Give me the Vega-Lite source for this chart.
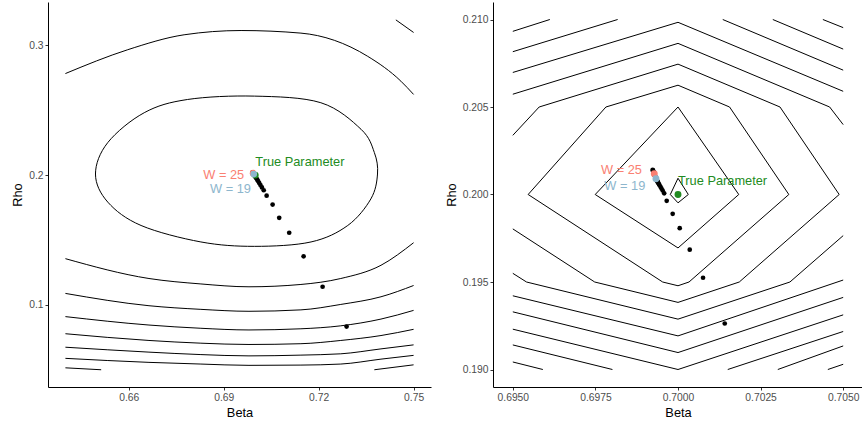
{
  "$schema": "https://vega.github.io/schema/vega-lite/v6.json",
  "padding": {"left": 11, "top": 2, "right": 0, "bottom": 0},
  "spacing": 14,
  "config": {
    "view": {"stroke": null},
    "font": "Liberation Sans",
    "axis": {"grid": false, "domainColor": "black", "domainWidth": 1, "tickColor": "#333333", "tickSize": 3, "tickWidth": 1, "labelColor": "#4D4D4D", "labelFontSize": 10.3, "labelFont": "Liberation Sans", "titleFont": "Liberation Sans", "titleFontSize": 12.8, "titleFontWeight": "normal", "titleColor": "black", "labelPadding": 2, "titlePadding": 4}
  },
  "datasets": {
    "lopen": [
      {"c":"A","i":1,"b":0.64,"r":0.2783},{"c":"A","i":2,"b":0.6597,"r":0.2967},{"c":"A","i":3,"b":0.6775,"r":0.3082},{"c":"A","i":4,"b":0.6955,"r":0.3115},{"c":"A","i":5,"b":0.7144,"r":0.3095},{"c":"A","i":6,"b":0.7355,"r":0.2916},{"c":"A","i":7,"b":0.746,"r":0.2724},{"c":"A","i":8,"b":0.75,"r":0.2622},
      {"c":"A2","i":1,"b":0.7444,"r":0.3197},{"c":"A2","i":2,"b":0.75,"r":0.31},
      {"c":"C","i":1,"b":0.64,"r":0.1355},{"c":"C","i":2,"b":0.6664,"r":0.1202},{"c":"C","i":3,"b":0.6828,"r":0.116},{"c":"C","i":4,"b":0.698,"r":0.1138},{"c":"C","i":5,"b":0.7144,"r":0.1156},{"c":"C","i":6,"b":0.727,"r":0.1202},{"c":"C","i":7,"b":0.7397,"r":0.1304},{"c":"C","i":8,"b":0.75,"r":0.1478},
      {"c":"D","i":1,"b":0.64,"r":0.1087},{"c":"D","i":2,"b":0.6664,"r":0.0992},{"c":"D","i":3,"b":0.6828,"r":0.0964},{"c":"D","i":4,"b":0.698,"r":0.0949},{"c":"D","i":5,"b":0.7144,"r":0.096},{"c":"D","i":6,"b":0.727,"r":0.1002},{"c":"D","i":7,"b":0.7397,"r":0.1061},{"c":"D","i":8,"b":0.75,"r":0.1148},
      {"c":"E","i":1,"b":0.64,"r":0.0908},{"c":"E","i":2,"b":0.6664,"r":0.0843},{"c":"E","i":3,"b":0.6828,"r":0.0818},{"c":"E","i":4,"b":0.698,"r":0.0805},{"c":"E","i":5,"b":0.7144,"r":0.0814},{"c":"E","i":6,"b":0.727,"r":0.0837},{"c":"E","i":7,"b":0.7397,"r":0.0889},{"c":"E","i":8,"b":0.75,"r":0.0956},
      {"c":"F","i":1,"b":0.64,"r":0.0776},{"c":"F","i":2,"b":0.6664,"r":0.0724},{"c":"F","i":3,"b":0.6828,"r":0.0703},{"c":"F","i":4,"b":0.698,"r":0.0693},{"c":"F","i":5,"b":0.7144,"r":0.0699},{"c":"F","i":6,"b":0.727,"r":0.0724},{"c":"F","i":7,"b":0.7397,"r":0.0762},{"c":"F","i":8,"b":0.75,"r":0.081},
      {"c":"G","i":1,"b":0.64,"r":0.0672},{"c":"G","i":2,"b":0.6664,"r":0.0634},{"c":"G","i":3,"b":0.6828,"r":0.0615},{"c":"G","i":4,"b":0.698,"r":0.0605},{"c":"G","i":5,"b":0.7144,"r":0.0611},{"c":"G","i":6,"b":0.727,"r":0.0621},{"c":"G","i":7,"b":0.7397,"r":0.0659},{"c":"G","i":8,"b":0.75,"r":0.069},
      {"c":"H","i":1,"b":0.64,"r":0.0586},{"c":"H","i":2,"b":0.6664,"r":0.0555},{"c":"H","i":3,"b":0.6828,"r":0.0542},{"c":"H","i":4,"b":0.698,"r":0.0532},{"c":"H","i":5,"b":0.7144,"r":0.0534},{"c":"H","i":6,"b":0.727,"r":0.0542},{"c":"H","i":7,"b":0.7397,"r":0.058},{"c":"H","i":8,"b":0.75,"r":0.0609},
      {"c":"I1","i":1,"b":0.64,"r":0.0513},{"c":"I1","i":2,"b":0.6513,"r":0.0498},
      {"c":"I2","i":1,"b":0.7376,"r":0.0498},{"c":"I2","i":2,"b":0.75,"r":0.0536}
    ],
    "lclosed": [
      {"c":"B","i":1,"b":0.6495,"r":0.2008},{"c":"B","i":2,"b":0.6534,"r":0.2251},{"c":"B","i":3,"b":0.6649,"r":0.2481},{"c":"B","i":4,"b":0.6786,"r":0.2583},{"c":"B","i":5,"b":0.6997,"r":0.2609},{"c":"B","i":6,"b":0.7207,"r":0.2558},{"c":"B","i":7,"b":0.7334,"r":0.2353},{"c":"B","i":8,"b":0.7376,"r":0.2174},{"c":"B","i":9,"b":0.7386,"r":0.2008},{"c":"B","i":10,"b":0.7365,"r":0.1816},{"c":"B","i":11,"b":0.7292,"r":0.1611},{"c":"B","i":12,"b":0.7176,"r":0.1484},{"c":"B","i":13,"b":0.6997,"r":0.145},{"c":"B","i":14,"b":0.6828,"r":0.1484},{"c":"B","i":15,"b":0.6639,"r":0.1611},{"c":"B","i":16,"b":0.6534,"r":0.1791}
    ],
    "lpts": [
      {"w":1,"b":0.728832,"r":0.083115},{"w":2,"b":0.721253,"r":0.113814},{"w":3,"b":0.715253,"r":0.137298},{"w":4,"b":0.710705,"r":0.155487},{"w":5,"b":0.707547,"r":0.167},{"w":6,"b":0.705463,"r":0.177206},{"w":7,"b":0.703568,"r":0.184113},{"w":8,"b":0.702653,"r":0.188258},{"w":9,"b":0.702084,"r":0.190483},{"w":10,"b":0.701611,"r":0.192325},{"w":11,"b":0.701232,"r":0.19386},{"w":12,"b":0.700916,"r":0.195165},{"w":13,"b":0.700632,"r":0.196316},{"w":14,"b":0.700379,"r":0.197314},{"w":15,"b":0.700158,"r":0.198158},{"w":16,"b":0.699968,"r":0.198926},{"w":17,"b":0.699779,"r":0.199616},{"w":18,"b":0.699621,"r":0.20023},{"w":19,"b":0.699495,"r":0.200767},{"w":20,"b":0.699463,"r":0.200883},{"w":21,"b":0.699432,"r":0.200998},{"w":22,"b":0.6994,"r":0.201113},{"w":23,"b":0.699368,"r":0.201228},{"w":24,"b":0.699337,"r":0.201343},{"w":25,"b":0.699305,"r":0.201458},{"w":26,"b":0.699274,"r":0.201573},{"w":27,"b":0.699242,"r":0.201688},{"w":28,"b":0.69921,"r":0.201804},{"w":29,"b":0.699179,"r":0.201919},{"w":30,"b":0.699147,"r":0.202034}
    ],
    "lhi": [
      {"g":"True Parameter","b":0.7,"r":0.2},{"g":"W = 25","b":0.699305,"r":0.201458},{"g":"W = 19","b":0.699495,"r":0.200767}
    ],
    "ltxtR": [
      {"g":"W = 25","b":0.696495,"r":0.2003},{"g":"W = 19","b":0.69861,"r":0.18949}
    ],
    "ltxtL": [
      {"g":"True Parameter","b":0.7,"r":0.20975}
    ],
    "ropen": [
      {"c":"T1","i":1,"b":0.695,"r":0.209324},{"c":"T1","i":2,"b":0.696121,"r":0.21},
      {"c":"T2","i":1,"b":0.695,"r":0.20816},{"c":"T2","i":2,"b":0.698173,"r":0.21},
      {"c":"T3","i":1,"b":0.695,"r":0.206974},{"c":"T3","i":2,"b":0.7,"r":0.20984},{"c":"T3","i":3,"b":0.705,"r":0.205897},
      {"c":"T4","i":1,"b":0.695,"r":0.205731},{"c":"T4","i":2,"b":0.7,"r":0.208636},{"c":"T4","i":3,"b":0.704591,"r":0.205},{"c":"T4","i":4,"b":0.705,"r":0.203994},
      {"c":"T5","i":1,"b":0.695,"r":0.203381},{"c":"T5","i":2,"b":0.695797,"r":0.205},{"c":"T5","i":3,"b":0.7,"r":0.20745},{"c":"T5","i":4,"b":0.703088,"r":0.205},{"c":"T5","i":5,"b":0.704879,"r":0.2},{"c":"T5","i":6,"b":0.701855,"r":0.195},{"c":"T5","i":7,"b":0.7,"r":0.193834},{"c":"T5","i":8,"b":0.697479,"r":0.195},{"c":"T5","i":9,"b":0.695,"r":0.198034},
      {"c":"R1","i":1,"b":0.701355,"r":0.21},{"c":"R1","i":2,"b":0.705,"r":0.207106},
      {"c":"R2","i":1,"b":0.70287,"r":0.21},{"c":"R2","i":2,"b":0.705,"r":0.208309},
      {"c":"R3","i":1,"b":0.704385,"r":0.21},{"c":"R3","i":2,"b":0.705,"r":0.209536},
      {"c":"D2","i":1,"b":0.695464,"r":0.2},{"c":"D2","i":2,"b":0.697818,"r":0.205},{"c":"D2","i":3,"b":0.7,"r":0.206246},{"c":"D2","i":4,"b":0.701561,"r":0.205},{"c":"D2","i":5,"b":0.703355,"r":0.2},{"c":"D2","i":6,"b":0.700333,"r":0.195},{"c":"D2","i":7,"b":0.7,"r":0.194785},{"c":"D2","i":8,"b":0.699536,"r":0.195},{"c":"D2","i":9,"b":0.695464,"r":0.2},
      {"c":"D1","i":1,"b":0.697494,"r":0.2},{"c":"D1","i":2,"b":0.7,"r":0.205},{"c":"D1","i":3,"b":0.701839,"r":0.2},{"c":"D1","i":4,"b":0.7,"r":0.196946},{"c":"D1","i":5,"b":0.697494,"r":0.2},
      {"c":"D0","i":1,"b":0.699767,"r":0.2},{"c":"D0","i":2,"b":0.7,"r":0.200928},{"c":"D0","i":3,"b":0.700312,"r":0.2},{"c":"D0","i":4,"b":0.7,"r":0.199524},{"c":"D0","i":5,"b":0.699767,"r":0.2},
      {"c":"L6","i":1,"b":0.695,"r":0.195496},{"c":"L6","i":2,"b":0.695415,"r":0.195},{"c":"L6","i":3,"b":0.7,"r":0.192877},{"c":"L6","i":4,"b":0.703388,"r":0.195},{"c":"L6","i":5,"b":0.705,"r":0.19765},
      {"c":"L7","i":1,"b":0.695,"r":0.194212},{"c":"L7","i":2,"b":0.7,"r":0.19192},{"c":"L7","i":3,"b":0.705,"r":0.195112},
      {"c":"L8","i":1,"b":0.695,"r":0.193295},{"c":"L8","i":2,"b":0.7,"r":0.190968},{"c":"L8","i":3,"b":0.705,"r":0.19412},
      {"c":"L9","i":1,"b":0.695,"r":0.192304},{"c":"L9","i":2,"b":0.7,"r":0.19},{"c":"L9","i":3,"b":0.705,"r":0.193123},
      {"c":"L10","i":1,"b":0.695,"r":0.191404},{"c":"L10","i":2,"b":0.698015,"r":0.19},
      {"c":"L11","i":1,"b":0.695,"r":0.19043},{"c":"L11","i":2,"b":0.695909,"r":0.19},
      {"c":"R4","i":1,"b":0.701506,"r":0.19},{"c":"R4","i":2,"b":0.705,"r":0.192172},
      {"c":"R5","i":1,"b":0.703021,"r":0.19},{"c":"R5","i":2,"b":0.705,"r":0.191347},
      {"c":"R6","i":1,"b":0.704536,"r":0.19},{"c":"R6","i":2,"b":0.705,"r":0.190298}
    ],
    "rpts": [
      {"w":1,"b":0.701415,"r":0.19263},{"w":2,"b":0.700758,"r":0.195244},{"w":3,"b":0.700355,"r":0.196848},{"w":4,"b":0.700052,"r":0.198075},{"w":5,"b":0.699839,"r":0.198894},{"w":6,"b":0.699658,"r":0.199639},{"w":7,"b":0.699582,"r":0.200069},{"w":8,"b":0.699536,"r":0.200223},{"w":9,"b":0.6995,"r":0.200344},{"w":10,"b":0.69947,"r":0.200441},{"w":11,"b":0.699442,"r":0.200527},{"w":12,"b":0.699421,"r":0.200596},{"w":13,"b":0.699403,"r":0.200653},{"w":14,"b":0.699388,"r":0.200711},{"w":15,"b":0.699376,"r":0.200745},{"w":16,"b":0.699367,"r":0.200779},{"w":17,"b":0.699358,"r":0.200808},{"w":18,"b":0.699352,"r":0.200831},{"w":19,"b":0.699333,"r":0.2009},{"w":20,"b":0.699321,"r":0.200957},{"w":21,"b":0.699312,"r":0.201009},{"w":22,"b":0.699303,"r":0.20106},{"w":23,"b":0.699294,"r":0.201106},{"w":24,"b":0.699288,"r":0.201146},{"w":25,"b":0.699282,"r":0.201186},{"w":26,"b":0.69927,"r":0.201244},{"w":27,"b":0.699261,"r":0.201289},{"w":28,"b":0.699252,"r":0.201335},{"w":29,"b":0.699242,"r":0.201375},{"w":30,"b":0.699233,"r":0.201415}
    ],
    "rhi": [
      {"g":"True Parameter","b":0.7,"r":0.2},{"g":"W = 25","b":0.699282,"r":0.201186},{"g":"W = 19","b":0.699333,"r":0.2009}
    ],
    "rtxtR": [
      {"g":"W = 25","b":0.698909,"r":0.201375},{"g":"W = 19","b":0.699009,"r":0.200458}
    ],
    "rtxtL": [
      {"g":"True Parameter","b":0.7,"r":0.200745}
    ]
  },
  "hconcat": [
    {
      "width": 383,
      "height": 385,
      "encoding": {
        "x": {"field": "b", "type": "quantitative", "scale": {"domain": [0.6345, 0.7555], "nice": false, "zero": false}, "axis": {"values": [0.66, 0.69, 0.72, 0.75], "format": ".2f", "title": "Beta"}},
        "y": {"field": "r", "type": "quantitative", "scale": {"domain": [0.0365, 0.3335], "nice": false, "zero": false}, "axis": {"values": [0.1, 0.2, 0.3], "format": ".1f", "title": "Rho"}}
      },
      "layer": [
        {"data": {"name": "lopen"}, "mark": {"type": "line", "interpolate": "monotone", "color": "black", "strokeWidth": 1}, "encoding": {"detail": {"field": "c"}, "order": {"field": "i", "type": "quantitative"}}},
        {"data": {"name": "lclosed"}, "mark": {"type": "line", "interpolate": "cardinal-closed", "color": "black", "strokeWidth": 1}, "encoding": {"detail": {"field": "c"}, "order": {"field": "i", "type": "quantitative"}}},
        {"data": {"name": "lpts"}, "mark": {"type": "circle", "color": "black", "opacity": 1, "size": 22}},
        {"data": {"name": "lhi"}, "mark": {"type": "circle", "opacity": 1, "size": 45}, "encoding": {"color": {"field": "g", "type": "nominal", "scale": {"domain": ["W = 25", "W = 19", "True Parameter"], "range": ["#FA8072", "#8DB6CD", "#228B22"]}, "legend": null}}},
        {"data": {"name": "ltxtR"}, "mark": {"type": "text", "align": "right", "baseline": "middle", "fontSize": 12.8, "font": "Liberation Sans"}, "encoding": {"text": {"field": "g"}, "color": {"field": "g", "type": "nominal", "scale": {"domain": ["W = 25", "W = 19", "True Parameter"], "range": ["#FA8072", "#8DB6CD", "#228B22"]}, "legend": null}}},
        {"data": {"name": "ltxtL"}, "mark": {"type": "text", "align": "left", "baseline": "middle", "fontSize": 12.8, "font": "Liberation Sans"}, "encoding": {"text": {"field": "g"}, "color": {"field": "g", "type": "nominal", "scale": {"domain": ["W = 25", "W = 19", "True Parameter"], "range": ["#FA8072", "#8DB6CD", "#228B22"]}, "legend": null}}}
      ]
    },
    {
      "width": 370,
      "height": 385,
      "encoding": {
        "x": {"field": "b", "type": "quantitative", "scale": {"domain": [0.6944, 0.7056], "nice": false, "zero": false}, "axis": {"values": [0.695, 0.6975, 0.7, 0.7025, 0.705], "format": ".4f", "title": "Beta"}},
        "y": {"field": "r", "type": "quantitative", "scale": {"domain": [0.189, 0.211], "nice": false, "zero": false}, "axis": {"values": [0.19, 0.195, 0.2, 0.205, 0.21], "format": ".3f", "title": "Rho"}}
      },
      "layer": [
        {"data": {"name": "ropen"}, "mark": {"type": "line", "interpolate": "linear", "color": "black", "strokeWidth": 1, "strokeJoin": "round"}, "encoding": {"detail": {"field": "c"}, "order": {"field": "i", "type": "quantitative"}}},
        {"data": {"name": "rpts"}, "mark": {"type": "circle", "color": "black", "opacity": 1, "size": 22}},
        {"data": {"name": "rhi"}, "mark": {"type": "circle", "opacity": 1, "size": 48}, "encoding": {"color": {"field": "g", "type": "nominal", "scale": {"domain": ["W = 25", "W = 19", "True Parameter"], "range": ["#FA8072", "#8DB6CD", "#228B22"]}, "legend": null}}},
        {"data": {"name": "rtxtR"}, "mark": {"type": "text", "align": "right", "baseline": "middle", "fontSize": 12.8, "font": "Liberation Sans"}, "encoding": {"text": {"field": "g"}, "color": {"field": "g", "type": "nominal", "scale": {"domain": ["W = 25", "W = 19", "True Parameter"], "range": ["#FA8072", "#8DB6CD", "#228B22"]}, "legend": null}}},
        {"data": {"name": "rtxtL"}, "mark": {"type": "text", "align": "left", "baseline": "middle", "fontSize": 12.8, "font": "Liberation Sans"}, "encoding": {"text": {"field": "g"}, "color": {"field": "g", "type": "nominal", "scale": {"domain": ["W = 25", "W = 19", "True Parameter"], "range": ["#FA8072", "#8DB6CD", "#228B22"]}, "legend": null}}}
      ]
    }
  ]
}
